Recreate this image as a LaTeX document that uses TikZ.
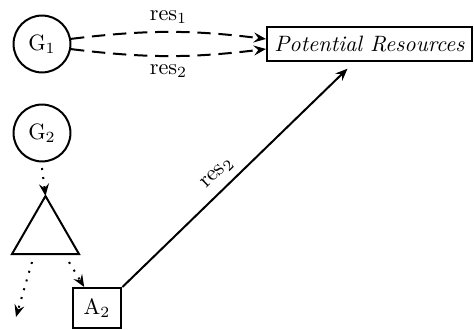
\documentclass[tikz,border=0pt]{standalone}
\usetikzlibrary{shapes.geometric,arrows.meta}
\begin{document}
\begin{tikzpicture}[x=0.45pt,y=-0.45pt,line width=0.9pt,>={Stealth[length=5.5pt,width=4.5pt,inset=2pt]},
  gnode/.style={circle,draw,minimum size=25.6pt,inner sep=0pt},
  trinode/.style={regular polygon,regular polygon sides=3,draw,minimum size=34.8pt,inner sep=0pt,outer sep=0pt},
  abox/.style={rectangle,draw,minimum width=22pt,minimum height=18pt,inner sep=0pt},
  pbox/.style={rectangle,draw,minimum height=15pt},
  dashline/.style={->,dash pattern=on 6pt off 3.5pt},
  dotline/.style={->,dash pattern=on \pgflinewidth off 3.2pt}]
\useasboundingbox (0,0) rectangle (474,330);
\node[gnode] (G1) at (42,44) {G$_1$};
\node[gnode] (G2) at (42,133) {G$_2$};
\node[trinode] (T) at (45.5,234.7) {};
\node[abox] (A2) at (97,308) {A$_2$};
\node[pbox] (P) at (369.5,44) {\textit{Potential Resources}};
\coordinate (L) at (16,317);
\draw[dashline] (G1.10) to[bend left=7] node[above]{res$_1$} ([yshift=2.25pt]P.west);
\draw[dashline] (G1.-10) to[bend right=7] node[below]{res$_2$} ([yshift=-2.25pt]P.west);
\draw[dotline] ([yshift=-2.5pt]G2.south) -- (T.corner 1);
\draw[dotline] ([shift={(20,8)}]T.corner 2) -- (L);
\draw[dotline] ([shift={(-10,8)}]T.corner 3) -- (A2);
\draw[->] (A2.north east) -- node[pos=0.47,above,sloped]{res$_2$} ([shift={(-22,7)}]P.south);
\end{tikzpicture}
\end{document}
